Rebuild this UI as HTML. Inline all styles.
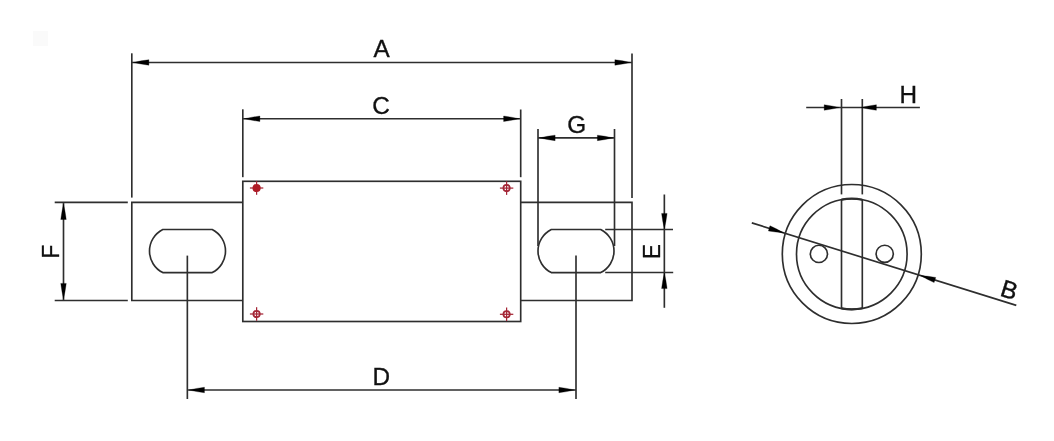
<!DOCTYPE html>
<html><head><meta charset="utf-8"><style>
html,body{margin:0;padding:0;background:#fff;width:1054px;height:441px;overflow:hidden;}
svg{display:block;will-change:transform;}
text{font-family:"Liberation Sans",sans-serif;}
</style></head><body>
<svg width="1054" height="441" viewBox="0 0 1054 441">
<rect width="1054" height="441" fill="#fff"/>
<rect x="33" y="31" width="15" height="15" fill="#fafafa"/>
<g fill="none" stroke="#2e2e2e" stroke-width="1.65">
<rect x="242.80" y="181.30" width="277.90" height="140.20"/>
<polyline points="242.80,202.40 131.80,202.40 131.80,300.50 242.80,300.50"/>
<polyline points="520.70,202.40 632.00,202.40 632.00,300.50 520.70,300.50"/>
<path d="M162.80 229.50 L212.20 229.50 A24.11 24.11 0 0 1 212.20 272.60 L162.80 272.60 A24.11 24.11 0 0 1 162.80 229.50 Z"/>
<path d="M551.30 229.50 L600.70 229.50 A24.11 24.11 0 0 1 600.70 272.60 L551.30 272.60 A24.11 24.11 0 0 1 551.30 229.50 Z"/>
<line x1="131.80" y1="53.30" x2="131.80" y2="197.60"/>
<line x1="632.00" y1="53.50" x2="632.00" y2="198.00"/>
<line x1="131.80" y1="62.45" x2="632.00" y2="62.45"/>
<line x1="242.80" y1="109.30" x2="242.80" y2="177.20"/>
<line x1="520.70" y1="109.50" x2="520.70" y2="177.20"/>
<line x1="242.80" y1="118.75" x2="520.70" y2="118.75"/>
<line x1="538.00" y1="129.00" x2="538.00" y2="246.00"/>
<line x1="614.50" y1="129.00" x2="614.50" y2="246.00"/>
<line x1="538.00" y1="137.90" x2="614.50" y2="137.90"/>
<line x1="187.35" y1="255.60" x2="187.35" y2="399.00"/>
<line x1="576.00" y1="255.60" x2="576.00" y2="399.00"/>
<line x1="187.35" y1="390.00" x2="576.00" y2="390.00"/>
<line x1="54.70" y1="202.40" x2="127.80" y2="202.40"/>
<line x1="54.70" y1="300.50" x2="127.80" y2="300.50"/>
<line x1="63.50" y1="202.40" x2="63.50" y2="300.50"/>
<line x1="605.20" y1="229.50" x2="673.00" y2="229.50"/>
<line x1="605.20" y1="272.50" x2="673.20" y2="272.50"/>
<line x1="664.35" y1="194.50" x2="664.35" y2="307.80"/>
<line x1="806.20" y1="107.50" x2="919.90" y2="107.50"/>
<line x1="841.50" y1="99.00" x2="841.50" y2="194.40"/>
<line x1="862.30" y1="99.00" x2="862.30" y2="194.40"/>
<circle cx="851.80" cy="254.00" r="69.5"/>
<circle cx="851.80" cy="254.00" r="55.3"/>
<line x1="841.50" y1="199.67" x2="841.50" y2="308.33"/>
<line x1="862.30" y1="199.71" x2="862.30" y2="308.29"/>
<path d="M841.50 199.67 A55.3 55.3 0 0 1 862.30 199.71" stroke-width="2.2"/>
<path d="M841.50 308.33 A55.3 55.3 0 0 0 862.30 308.29" stroke-width="2.2"/>
<circle cx="818.9" cy="253.9" r="8.6"/>
<circle cx="884.7" cy="253.8" r="8.6"/>
<line x1="751.80" y1="222.90" x2="1016.30" y2="305.40"/>
</g>
<g fill="#000" stroke="#000" stroke-width="0.3" stroke-linejoin="round">
<polygon points="133.40,62.45 141.15,60.86 148.90,59.70 148.90,65.20 141.15,64.05"/>
<polygon points="630.40,62.45 622.65,64.05 614.90,65.20 614.90,59.70 622.65,60.86"/>
<polygon points="244.40,118.75 252.15,117.16 259.90,116.00 259.90,121.50 252.15,120.34"/>
<polygon points="519.10,118.75 511.35,120.34 503.60,121.50 503.60,116.00 511.35,117.16"/>
<polygon points="539.60,137.90 547.35,136.31 555.10,135.15 555.10,140.65 547.35,139.50"/>
<polygon points="612.90,137.90 605.15,139.50 597.40,140.65 597.40,135.15 605.15,136.31"/>
<polygon points="188.95,390.00 196.70,388.40 204.45,387.25 204.45,392.75 196.70,391.60"/>
<polygon points="574.40,390.00 566.65,391.60 558.90,392.75 558.90,387.25 566.65,388.40"/>
<polygon points="63.50,204.00 65.09,211.75 66.25,219.50 60.75,219.50 61.91,211.75"/>
<polygon points="63.50,298.90 61.91,291.15 60.75,283.40 66.25,283.40 65.09,291.15"/>
<polygon points="664.35,228.90 662.75,221.15 661.60,213.40 667.10,213.40 665.95,221.15"/>
<polygon points="664.35,273.10 665.95,280.85 667.10,288.60 661.60,288.60 662.75,280.85"/>
<polygon points="839.00,107.50 831.60,109.09 824.20,110.25 824.20,104.75 831.60,105.91"/>
<polygon points="860.90,107.50 868.65,105.91 876.40,104.75 876.40,110.25 868.65,109.09"/>
<polygon points="783.50,232.79 775.87,232.05 768.38,230.90 769.98,225.74 776.81,229.06"/>
<polygon points="920.60,275.55 928.23,276.29 935.72,277.44 934.12,282.59 927.29,279.28"/>
</g>
<g fill="none" stroke="#a42636" stroke-width="1.25">
<line x1="249.90" y1="188.00" x2="263.30" y2="188.00"/><line x1="256.60" y1="181.20" x2="256.60" y2="194.80"/><circle cx="256.60" cy="188.00" r="4.1" fill="#ae1c26" stroke="none"/>
<line x1="499.90" y1="188.10" x2="513.30" y2="188.10"/><line x1="506.60" y1="181.30" x2="506.60" y2="194.90"/><circle cx="506.60" cy="188.10" r="3.2" fill="none" stroke-width="1.7"/>
<line x1="249.90" y1="314.00" x2="263.30" y2="314.00"/><line x1="256.60" y1="307.20" x2="256.60" y2="320.80"/><circle cx="256.60" cy="314.00" r="3.2" fill="none" stroke-width="1.7"/>
<line x1="499.90" y1="314.30" x2="513.30" y2="314.30"/><line x1="506.60" y1="307.50" x2="506.60" y2="321.10"/><circle cx="506.60" cy="314.30" r="3.2" fill="none" stroke-width="1.7"/>
</g>
<g fill="#111" stroke="#111" stroke-width="0.35" font-family="Liberation Sans, sans-serif" font-size="24.3">
<text x="381.5" y="57.15" text-anchor="middle">A</text>
<text x="381.1" y="114.2" text-anchor="middle">C</text>
<text x="576.65" y="132.85" text-anchor="middle">G</text>
<text x="381.25" y="385.3" text-anchor="middle">D</text>
<text x="908.2" y="103.3" text-anchor="middle">H</text>
<text x="0" y="0" text-anchor="middle" transform="translate(59.0 251.6) rotate(-90) scale(0.92 1)">F</text>
<text x="0" y="0" text-anchor="middle" transform="translate(660.0 251.55) rotate(-90) scale(0.92 1)">E</text>
<text x="0" y="0" font-size="24.5" transform="translate(1000.9 296.0) rotate(17.3) translate(-1.9 0)">B</text>
</g>
</svg>
</body></html>
